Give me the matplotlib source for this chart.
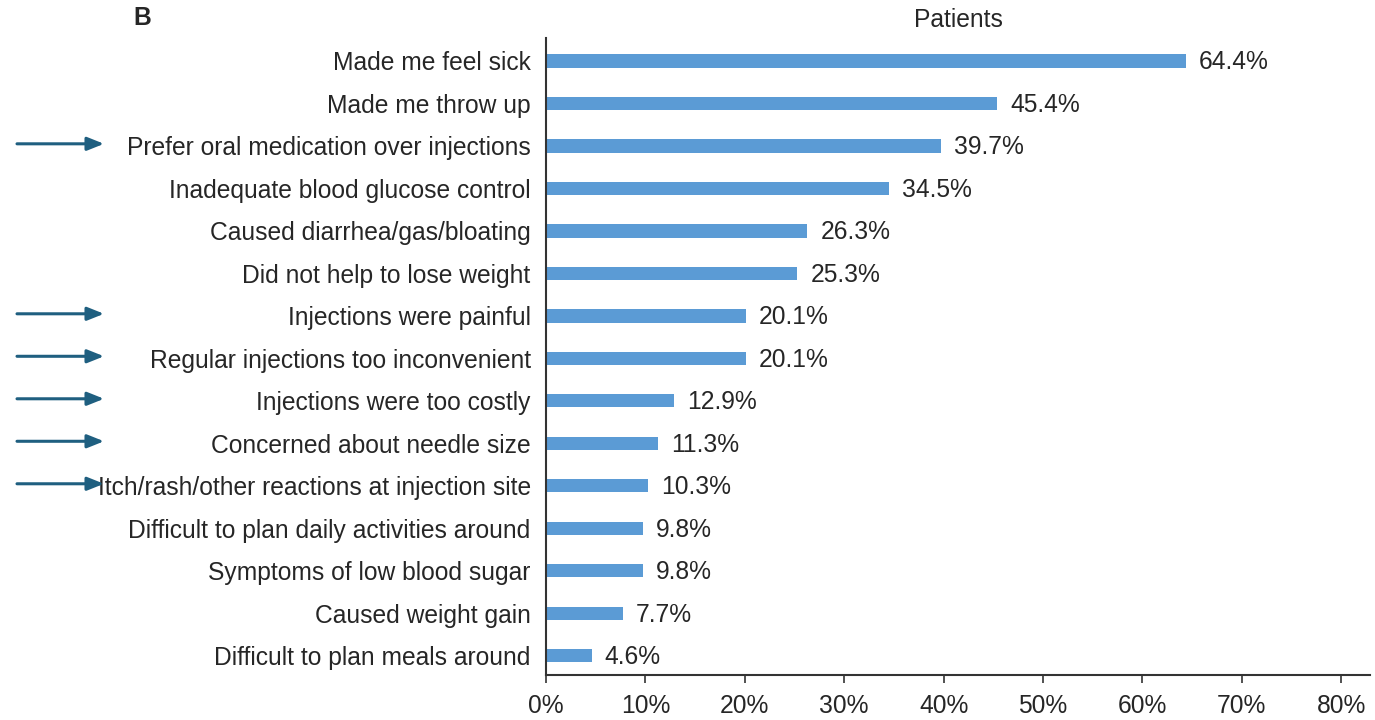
import matplotlib
matplotlib.use("Agg")
import matplotlib.pyplot as plt
import matplotlib.transforms as mtransforms

categories = [
    "Made me feel sick",
    "Made me throw up",
    "Prefer oral medication over injections",
    "Inadequate blood glucose control",
    "Caused diarrhea/gas/bloating",
    "Did not help to lose weight",
    "Injections were painful",
    "Regular injections too inconvenient",
    "Injections were too costly",
    "Concerned about needle size",
    "Itch/rash/other reactions at injection site",
    "Difficult to plan daily activities around",
    "Symptoms of low blood sugar",
    "Caused weight gain",
    "Difficult to plan meals around",
]
values = [64.4, 45.4, 39.7, 34.5, 26.3, 25.3, 20.1, 20.1, 12.9, 11.3, 10.3, 9.8, 9.8, 7.7, 4.6]
arrow_rows = [2, 6, 7, 8, 9, 10]
xticks = [0, 10, 20, 30, 40, 50, 60, 70, 80]
xticklabels = [f"{t}%" for t in xticks]

plt.rcParams['font.family'] = ['Liberation Sans', 'DejaVu Sans']
FS = 17.7
TXT = "#262626"

fig = plt.figure(figsize=(13.75, 7.2), dpi=100)
ax = fig.add_axes([546/1375, 1-675/720, (1370-546)/1375, (675-38)/720])

ypos = list(range(len(categories)))
ax.barh(ypos, values, height=0.31, color="#5b9bd5", zorder=2)
for y, v in zip(ypos, values):
    ax.text(v + 1.3, y + 0.03, f"{v}%", va="center", ha="left", fontsize=FS, color=TXT)

ax.set_yticks(ypos)
ax.set_yticklabels(categories, fontsize=FS, color=TXT)
ax.tick_params(axis="y", length=0, pad=11)
ax.set_ylim(len(categories) - 1 + 0.45, -0.54)
ax.set_xlim(0, 82.9)
ax.set_xticks(xticks)
ax.set_xticklabels(xticklabels, fontsize=FS, color=TXT)
ax.tick_params(axis="x", direction="out", length=6, width=1.2, color="#333333", pad=8)

for s in ["top", "right"]:
    ax.spines[s].set_visible(False)
for s in ["left", "bottom"]:
    ax.spines[s].set_color("#333333")
    ax.spines[s].set_linewidth(1.5)

ax.set_title("Patients", fontsize=FS, color=TXT, pad=8)
fig.text(133/1375, 1-18/720, "B", fontsize=FS, fontweight="bold", va="center", ha="left", color=TXT)

trans = mtransforms.blended_transform_factory(fig.transFigure, ax.transData)
for r in arrow_rows:
    ax.annotate("", xy=(104/1375, r - 0.05), xytext=(17/1375, r - 0.05),
                xycoords=trans, textcoords=trans,
                arrowprops=dict(arrowstyle="-|>,head_length=1.0,head_width=0.4",
                                color="#1f5f80", lw=2.2, shrinkA=0, shrinkB=0),
                annotation_clip=False)

fig.savefig("out.png", dpi=100)
